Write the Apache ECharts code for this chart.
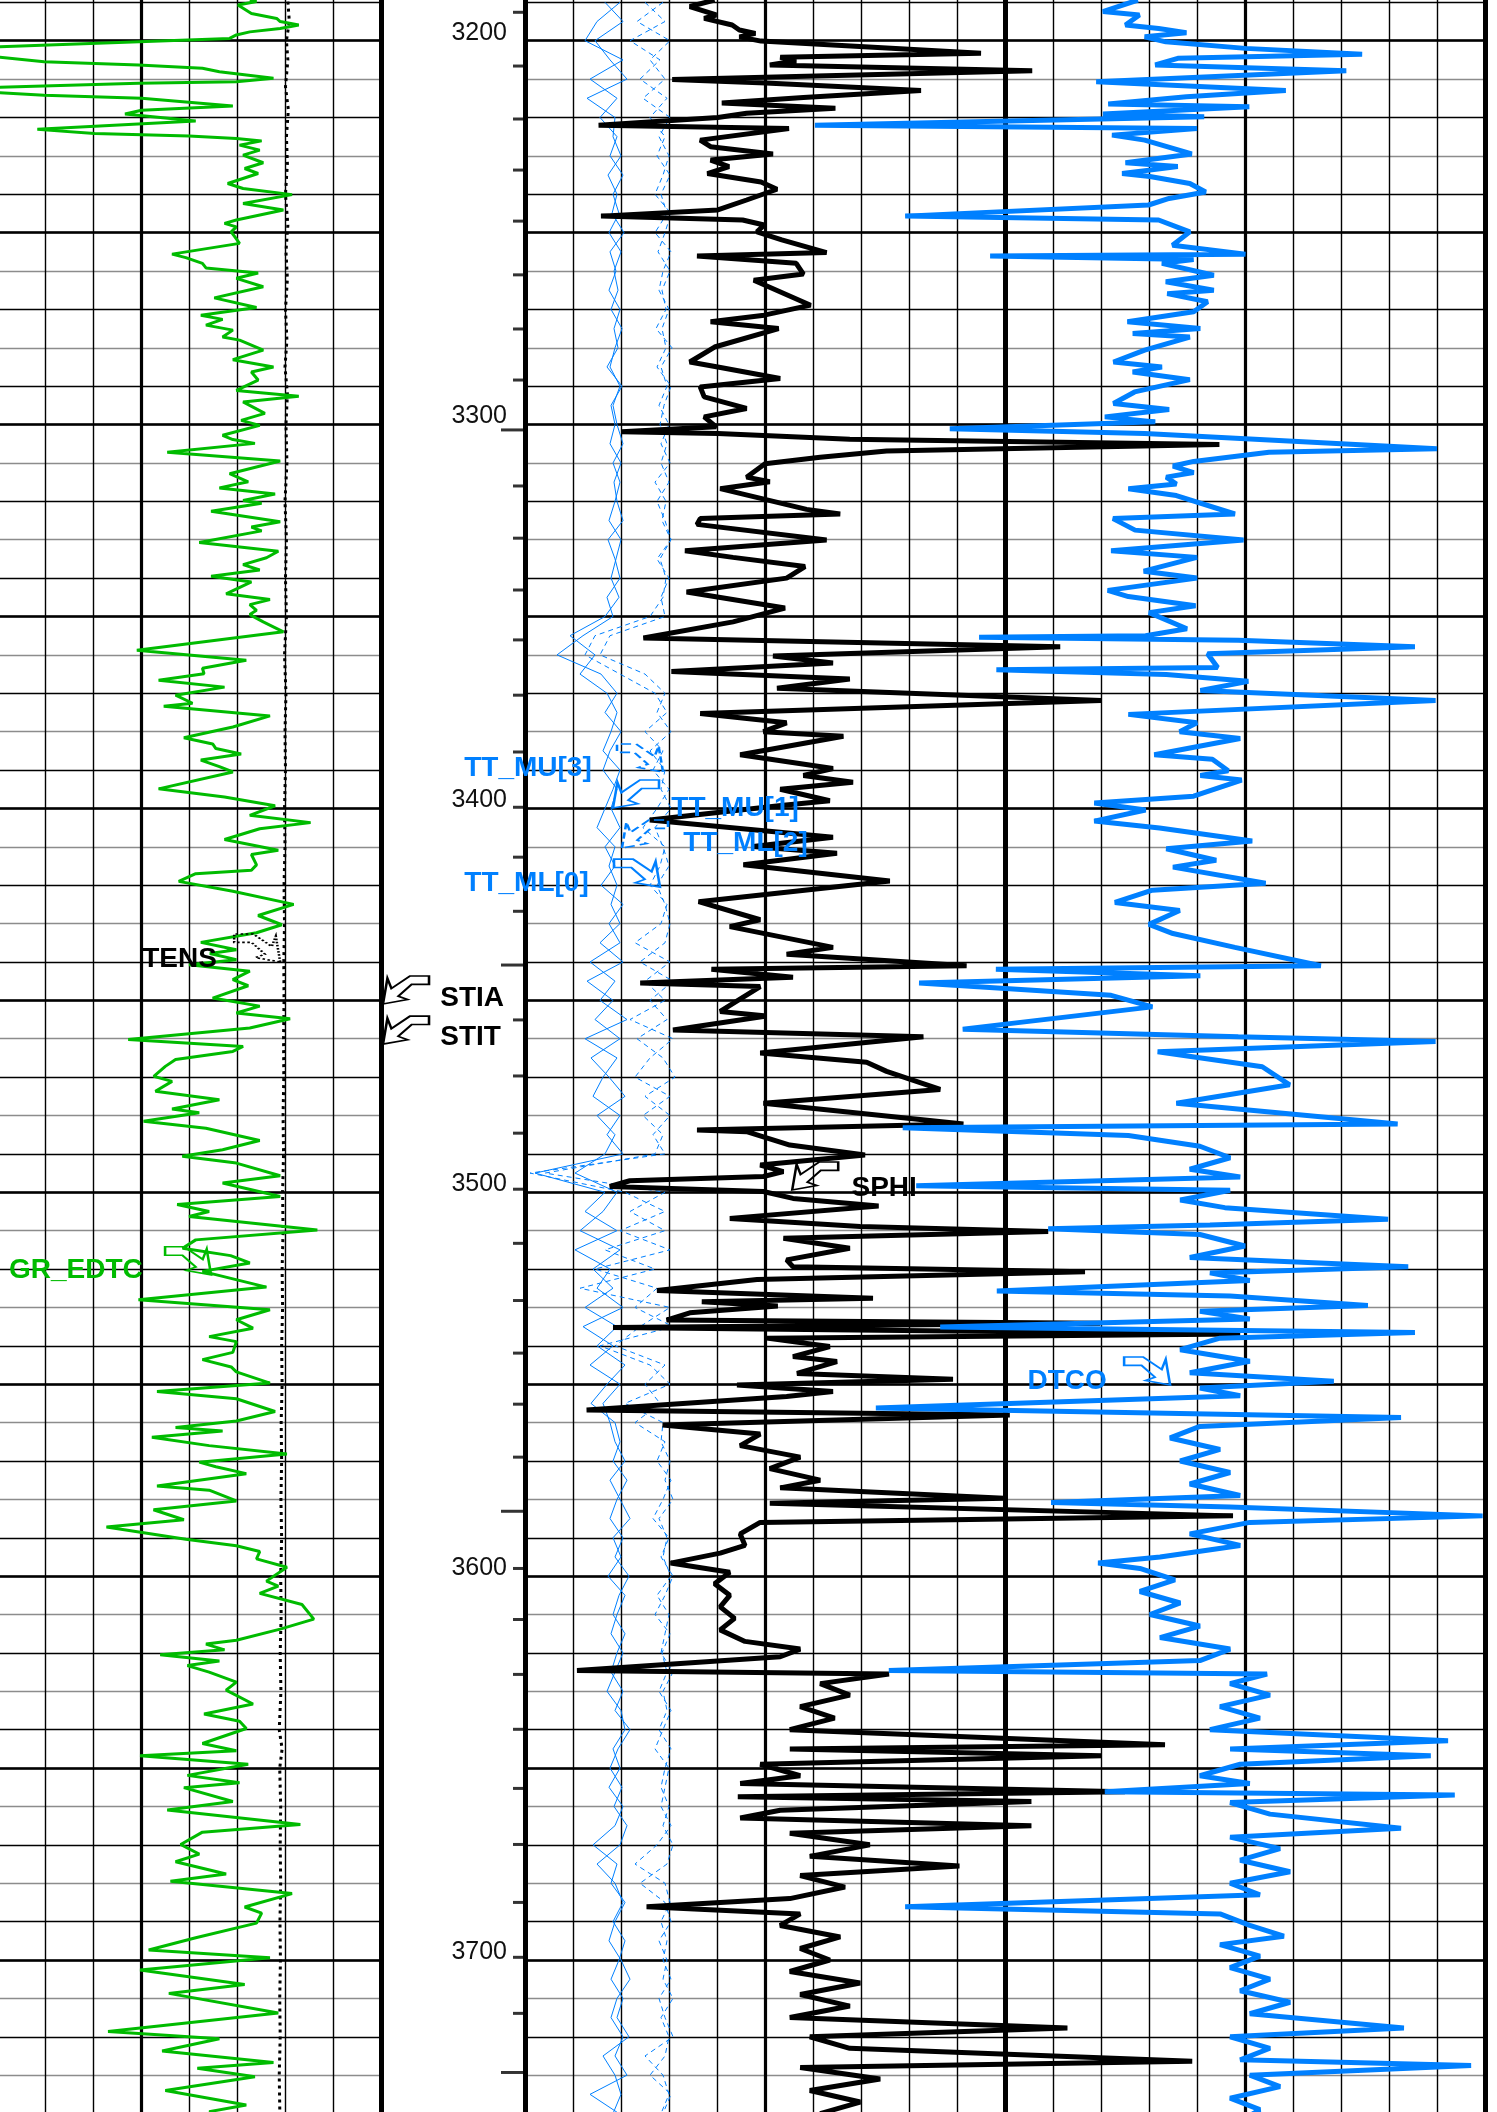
<!DOCTYPE html>
<html>
<head>
<meta charset="utf-8">
<title>Well log 3190-3740 m</title>
<script src="https://cdn.jsdelivr.net/npm/echarts@6/dist/echarts.min.js"></script>
<style>
  html, body { margin: 0; padding: 0; background: #ffffff; }
  #log { width: 1497px; height: 2112px; }
</style>
</head>
<body>
<div id="log"></div>
<script>
// ---------------- curve data (depth in m) ----------------
const GR_DEPTH = [3189.4,3189.8,3190.7,3192.9,3194.2,3195.0,3195.9,3196.8,3197.7,3198.5,3199.4,3202.3,3205.5,3206.3,3207.2,3208.1,3209.8,3210.7,3211.1,3212.6,3214.2,3215.0,3217.0,3218.1,3219.1,3220.9,3223.1,3224.2,3224.8,3225.5,3226.1,3227.2,3228.5,3229.8,3231.8,3233.3,3234.6,3237.2,3238.5,3240.1,3242.4,3244.1,3246.7,3247.6,3248.5,3249.8,3252.8,3255.6,3256.5,3258.0,3259.2,3260.5,3261.9,3264.1,3267.0,3269.5,3271.5,3272.6,3274.1,3275.4,3277.2,3278.0,3280.6,3283.1,3285.0,3286.3,3288.4,3291.1,3292.6,3294.1,3297.1,3298.9,3300.2,3302.8,3303.9,3304.9,3307.2,3309.5,3312.8,3314.9,3316.5,3318.1,3319.8,3320.5,3322.6,3325.3,3326.7,3327.7,3330.7,3333.0,3334.7,3336.5,3337.9,3339.5,3341.0,3344.1,3345.6,3346.9,3348.4,3349.5,3351.4,3354.0,3358.8,3361.4,3363.5,3364.9,3366.6,3368.4,3370.5,3372.6,3373.4,3375.9,3378.8,3381.6,3383.2,3384.4,3385.8,3387.4,3389.1,3390.5,3394.9,3397.0,3399.3,3401.8,3403.7,3405.3,3408.1,3410.9,3412.0,3414.7,3416.1,3417.0,3419.0,3421.6,3425.0,3427.9,3430.3,3432.4,3434.9,3436.8,3437.8,3439.4,3440.7,3442.4,3444.6,3446.2,3449.4,3451.5,3453.3,3454.8,3457.2,3460.2,3462.0,3463.3,3465.4,3467.2,3469.8,3471.1,3473.7,3475.9,3478.3,3479.3,3481.5,3483.3,3486.5,3488.9,3490.6,3492.4,3495.7,3497.6,3501.1,3503.2,3505.0,3506.3,3509.8,3512.4,3514.6,3516.5,3518.4,3520.6,3524.7,3528.0,3530.6,3533.2,3535.4,3537.6,3538.9,3541.7,3543.6,3545.5,3546.8,3549.7,3551.9,3553.8,3557.1,3559.6,3561.3,3562.2,3563.8,3566.0,3568.2,3570.3,3571.5,3573.3,3576.5,3577.6,3580.4,3582.7,3585.3,3587.2,3590.4,3592.1,3593.6,3595.5,3597.7,3601.3,3602.6,3604.5,3607.4,3611.2,3613.8,3616.7,3617.7,3619.2,3620.5,3622.1,3623.3,3625.0,3627.6,3629.7,3633.3,3635.9,3637.8,3639.7,3643.6,3645.5,3646.8,3649.0,3651.9,3653.8,3655.1,3658.7,3660.9,3664.7,3666.7,3669.9,3672.4,3674.4,3677.6,3679.5,3682.7,3686.2,3687.8,3690.4,3694.2,3697.4,3699.4,3702.6,3706.4,3708.7,3713.8,3718.6,3720.5,3723.7,3726.7,3728.2,3730.4,3734.0,3737.8,3739.5,3742.0];
const GR_GAPI = [109,111.1,105.3,109.5,117.4,118.5,124.3,118.5,109,104.8,102.7,8,44.7,74.2,94.2,99.5,116.4,104.8,74.2,10,44.7,75.2,103.7,75.2,70,92.1,42.6,60.5,90,104.8,112.7,105.8,112.1,106.9,113.2,107.4,111.6,102.1,106.9,122.2,106.9,119.5,104.8,101.1,104.8,103.2,105.8,84.7,89,94.2,95.3,111.6,104.8,113.2,97.9,111.1,93.7,100.5,95.3,103.7,100.5,105.8,113.2,103.7,116.4,109.5,111.6,104.8,124.3,106.9,113.7,106.3,112.1,100.5,103.7,110.6,83.2,118.5,102.7,108.5,99.5,116.9,106.9,112.7,96.9,118.5,109.5,112.7,93.2,117.9,114.2,106.9,112.1,96.9,109.5,101.6,115.3,109,111.1,109,113.2,119.5,73.7,107.9,94.2,94.7,80.5,101.1,85.8,91.1,82.1,115.3,103.7,88.4,97.4,98.4,106.3,93.7,99.5,103.7,80.5,101.1,116.9,109,128,112.1,101.1,117.9,109.5,111.1,109.5,92.1,86.8,103.7,122.7,111.6,119,111.1,93.7,104.8,96.5,104.8,90,109,103.7,108.5,97.4,112.1,104.8,121.6,109,71,106.9,103.7,85.8,82.6,79,84.7,79.5,99.5,84.7,93.2,75.8,95.3,112.1,100.5,87.9,104.8,118.5,100.5,118.5,86.3,96.3,90,130.1,92.1,88,103,109,94.2,114.2,74.2,115.3,104.8,110,96.3,104.8,103.7,94.2,103.2,104.8,115.3,80,104.8,116.9,104.8,85.8,100.5,78.4,96.3,120.6,93.2,98.4,107.9,80,96.3,104.8,78.9,88.4,64.2,89,104.8,112.1,111.1,120.6,114.2,117.9,112.1,125.3,129,118.5,104.8,95.3,101.1,81,99.5,89.5,96.3,104.8,101.6,110,94.7,105.8,107.9,94.2,104.8,74.7,108.5,89.5,105.8,88.4,103.7,83.2,124.8,94.2,87.4,93.2,85.8,101.6,84.2,122.2,107.4,112.7,111.1,92.1,77.4,115.3,74.7,107.4,83.7,117.9,64.7,99.5,81.6,116.4,92.6,110.6,82.6,107.9,96.3,104];

const TENS_DEPTH = [3188,3195,3200,3205,3212,3218,3225,3232,3240,3248,3255,3262,3270,3278,3285,3292,3300,3310,3320,3330,3340,3350,3360,3370,3380,3390,3400,3410,3420,3430,3440,3450,3460,3470,3480,3490,3500,3510,3520,3530,3540,3550,3560,3570,3580,3590,3600,3610,3620,3630,3640,3645,3650,3660,3670,3680,3690,3700,3710,3720,3730,3742];
const TENS_LBF = [8050,8090,8030,8060,8010,8070,8030,8050,8010,8060,8020,8050,8010,8040,8000,8050,8020,8040,8000,8030,8010,8030,7990,8020,8000,8010,7990,8000,7980,7990,7975,7980,7970,7975,7960,7970,7950,7960,7940,7950,7930,7940,7920,7930,7915,7930,7910,7920,7900,7915,7880,7940,7890,7910,7900,7910,7895,7905,7890,7900,7880,7895];

const SPHI_DEPTH = [3189.4,3191.1,3193.3,3194.2,3195.9,3197.2,3198.1,3199.0,3200.1,3203.3,3204.3,3205.2,3206.3,3207.8,3210.1,3211.0,3213.0,3214.8,3216.2,3217.6,3218.9,3220.0,3222.0,3222.9,3225.9,3227.6,3229.5,3231.1,3232.8,3234.6,3236.8,3238.7,3241.5,3244.1,3245.7,3246.7,3248.0,3249.8,3251.9,3255.2,3256.1,3258.0,3260.8,3262.4,3268.9,3271.5,3273.2,3275.0,3279.8,3283.7,3285.0,3288.0,3290.2,3292.8,3295.8,3298.0,3300.6,3301.9,3302.3,3303.8,3305.2,3306.9,3308.5,3310.2,3313.7,3314.9,3316.7,3322.1,3323.3,3324.5,3326.0,3330.1,3332.9,3334.6,3337.0,3340.0,3343.6,3347.8,3351.4,3355.6,3357.9,3360.3,3362.1,3364.3,3366.3,3368.7,3371.9,3375.3,3377.7,3380.0,3381.2,3386.0,3389.6,3391.4,3393.2,3395.0,3398.0,3399.2,3403.0,3407.5,3409.9,3411.7,3414.7,3418.9,3424.3,3429.0,3430.8,3436.2,3438.0,3441.0,3441.9,3444.0,3445.5,3446.4,3452.9,3454.1,3457.7,3459.5,3463.7,3466.1,3468.5,3473.2,3476.8,3482.2,3483.8,3484.2,3487.7,3490.3,3492.9,3494.6,3495.9,3497.0,3498.5,3499.8,3501.6,3503.6,3506.8,3508.9,3510.2,3512.0,3514.6,3517.6,3519.4,3520.7,3522.7,3525.6,3527.6,3528.5,3529.6,3531.4,3533.3,3534.1,3535.2,3536.9,3538.0,3540.2,3542.8,3544.1,3547.2,3548.7,3550.2,3551.9,3553.2,3556.7,3558.0,3560.6,3563,3566,3569,3572,3575,3577,3579.7,3581,3584.3,3586,3589,3592,3594,3596.6,3599,3602,3605,3608,3611,3614,3617,3619,3621,3624.6,3625.5,3628,3631,3634,3637,3640,3643.9,3645,3646.8,3649,3652,3654,3656.2,3657.5,3658.7,3661,3663,3665,3667,3670,3673,3675.5,3678,3681,3684,3686.1,3688,3691,3694,3697,3700,3703,3706,3709,3712,3715,3717.7,3720,3723,3726.4,3728,3731,3734,3737,3740,3742];
const SPHI_PU = [21.3,24.4,21.1,22.6,19.1,18.2,16.2,18.2,15.5,-12.0,13.1,11.1,14.4,-18.4,26.6,14.9,-4.5,10.2,20.4,6.2,17.3,20.9,35.8,12,23.1,21.8,14,21.8,19.5,22.2,15.5,13.5,17.3,20.9,35.5,17.8,15.1,16,12.9,7.3,23.5,11.1,10.2,16.4,9.3,15.1,21.8,13.3,21.3,24.4,20.9,13.1,23.1,22.6,17.3,22.6,21.1,32.9,20.9,4.4,-41.8,-0.2,8.1,15,17.3,14.4,20.6,9.8,5.6,23.1,23.5,7.3,25,19,10,12.3,24.8,12.5,19,30.2,-21.9,14,6.5,26.7,4.4,13.5,-27,23.1,12.3,15.2,5.2,18.1,6.5,10.2,4,13.1,6.9,12.7,29.4,6.5,16.5,6,17.7,-0.6,23.3,15.6,19.4,6.5,12.3,-10.2,21.7,11.5,30.6,15.6,20.6,14.8,26.5,-4.8,15.6,2.3,-0.2,-6.9,15.2,-9.8,23.5,17.3,11.9,2.5,15.6,12.7,15.2,31.9,34.4,15.2,11.5,0.8,19.4,3.1,-20.4,12.7,4.4,12.3,11.5,-25,16,28.5,1.5,22.9,13.4,24.4,27.3,-26.9,34,-44.4,14.8,6.9,11.5,6,11,-8.5,18.5,6.5,12.3,37.3,-15.6,27.8,15.6,18.1,10.6,14.4,8.1,13.1,-14.9,14.4,-43.5,15.6,18.1,17.5,20.6,26.8,19.4,21.3,19.4,20.6,18.8,20.6,17.5,10.6,13.1,38.5,-0.5,8.1,4.4,10.6,6.3,11.9,-35,11.9,-27.1,15.6,10.6,18.1,-30,18.4,-18.3,13.1,18.1,-18.3,11.9,1.9,9.4,-9.3,10.6,5,11.9,29.8,10.6,13.1,5.6,10.6,6.9,11.9,3.1,10.6,4.4,11.9,-22.8,9.4,4.4,-38.4,10.6,0.6,9.4,3.1,8.1,5.6];

const DTCO_DEPTH = [3189.4,3192.4,3193.3,3195.9,3196.8,3197.9,3199.0,3200.3,3202.0,3203.5,3204.6,3206.3,3207.8,3210.7,3213.0,3214.6,3216.5,3217.2,3219.1,3219.8,3222.0,3222.9,3224.6,3225.9,3229.5,3231.8,3232.8,3234.6,3235.4,3237.2,3239.4,3241.1,3242.8,3245.7,3246.7,3249.8,3253.3,3255.6,3256.1,3257.0,3258.0,3261.1,3262.8,3265.0,3265.9,3268.0,3270.6,3273.2,3275.0,3276.3,3277.2,3280.6,3283.7,3285.0,3286.3,3288.3,3291.5,3294.5,3296.1,3298.0,3299.3,3301.1,3302.3,3306.3,3307.2,3309.6,3310.8,3312.5,3313.7,3315.5,3316.7,3318.5,3323.3,3324.5,3327.5,3330.1,3332.9,3334.6,3338.2,3340.0,3343.2,3344.8,3347.2,3349.0,3353.2,3355.0,3355.4,3356.2,3357.9,3359.7,3363.3,3363.9,3365.1,3366.9,3369.3,3371.9,3375.5,3377.7,3380.0,3381.8,3386.0,3387.2,3390.2,3391.4,3392.6,3396.8,3398.6,3400.4,3403.3,3405.1,3408.5,3410.5,3413.5,3415.3,3419.5,3421.3,3424.5,3426.6,3430.2,3432.6,3436.2,3441.0,3441.9,3443.6,3445.5,3448.7,3451.7,3457.5,3459.5,3460.7,3463.4,3467.3,3472.0,3476.8,3482.2,3483.2,3485.2,3488,3491,3494,3496,3498.3,3499.5,3502,3504,3507,3508.5,3509.5,3511,3514,3517,3519.4,3521,3523,3525.7,3527,3529.5,3531,3533,3535.1,3536.5,3538,3541,3544,3547,3549.2,3551,3553,3556.2,3558.7,3561,3564,3567,3570,3573,3576,3579,3580.8,3582,3584.3,3586,3589,3592,3595,3596.6,3598,3601,3604,3607,3610,3613,3616,3619,3622,3624.6,3625.5,3628,3631,3634,3637,3640,3642.9,3645,3646.8,3649,3652,3654,3656.2,3657,3659,3662,3665.7,3668,3671,3674,3677,3680,3683,3686.1,3688,3691,3693.8,3696,3699,3702,3705,3708,3711,3714,3717.7,3720,3723,3726,3727.5,3730,3733,3736,3739,3742];
const DTCO_USFT = [112.3,119.6,112,114.9,108,102.2,110.9,106.5,89.9,65.6,104,108.7,68.9,121,81.5,102.2,118.5,89.1,119.6,98.5,179.6,100,117.7,110.9,101.1,114.9,104,115.6,109.8,101.5,98.2,105.8,110.1,160.8,108,101.5,105.1,89.9,143.1,100.7,107.3,96.5,106.5,96.5,106.2,97.8,100.7,114.5,99.3,113.4,101.5,110.9,117.4,107.3,113.4,101.5,113,117.4,105.8,119.2,108.7,151.5,110.9,50,85,100.7,105,100.7,106.4,104.3,114.3,104.3,92.1,117.5,112.9,90.3,117.9,100,111.1,100,118.6,114.3,100.3,110,102.1,110.7,145.4,91.4,54.6,97.8,95.7,141.8,106.4,89.3,99.3,50.3,114.3,100,103.6,91,108.9,96.8,93.5,99.3,90.7,100.7,121.4,110.7,121.4,107.8,88.5,106.4,96,105,85.7,109.3,117.1,103.6,110,105,92.1,74.2,141.9,99.3,157.9,117.9,109.3,148.8,91.4,50.3,108.2,86.4,80.7,104.3,58.2,161.3,114.3,99.4,93.1,101.5,91,158.5,93.1,103.5,94.2,60.2,97.3,131,99.4,90,101.5,56,97.3,89,141.7,93.1,64.4,99.4,89,153.5,54.6,95.2,103.5,89,101.5,71.5,99.4,91,166.9,57.5,99.4,105.6,95.2,103.5,93.1,101.5,91,130.4,93.1,40.5,89,101.5,91,107.7,120.6,111.9,104.6,111.9,103.5,109.8,99.4,107.7,93.1,99.4,164.2,85.4,93.1,84.8,95.2,86.9,97.3,47.7,93.1,51.3,91,99.4,89,119.2,46.3,93.1,84.8,57.5,93.1,82.7,91,80.6,93.1,86.9,160.8,95.2,89,81.9,95.2,86.9,93.1,84.8,91,80.6,89,56.9,93.1,84.8,91,42.9,89,82.7,93.1,86.9,91];

// transit-time curves, sampled every 5 m
const TT_DEPTH = [3190,3195,3200,3205,3210,3215,3220,3225,3230,3235,3240,3245,3250,3255,3260,3265,3270,3275,3280,3285,3290,3295,3300,3305,3310,3315,3320,3325,3330,3335,3340,3345,3350,3355,3360,3365,3370,3375,3380,3385,3390,3395,3400,3405,3410,3415,3420,3425,3430,3435,3440,3445,3450,3455,3460,3465,3470,3475,3480,3485,3490,3495,3500,3505,3510,3515,3520,3525,3530,3535,3540,3545,3550,3555,3560,3565,3570,3575,3580,3585,3590,3595,3600,3605,3610,3615,3620,3625,3630,3635,3640,3645,3650,3655,3660,3665,3670,3675,3680,3685,3690,3695,3700,3705,3710,3715,3720,3725,3730,3735,3740];
const TT_MU1 = [395,372,360,398,365,392,375,392,385,398,388,394,384,396,389,393,386,397,390,385,395,388,392,398,388,395,390,384,396,391,386,394,380,345,370,355,382,392,386,378,395,388,380,372,390,384,392,386,395,375,398,362,388,370,395,366,384,400,372,390,380,350,392,378,355,395,368,388,360,392,372,400,382,366,390,395,388,402,392,385,398,390,404,394,388,400,392,386,398,390,405,393,385,397,389,402,395,372,390,398,388,400,394,386,398,392,404,378,390,396,388];
const TT_ML0 = [380,398,370,385,402,362,390,388,396,383,392,387,399,385,391,384,395,389,393,382,397,386,390,385,396,389,392,398,383,390,395,382,388,358,332,376,392,380,396,385,378,392,386,395,380,390,376,398,384,395,365,390,375,402,360,392,378,368,395,382,398,310,380,360,392,350,385,372,398,358,388,365,395,378,385,390,400,385,395,405,388,396,383,400,392,386,398,390,382,396,400,388,395,384,398,390,368,392,386,400,390,384,396,405,392,386,398,390,402,365,394];
const TT_MU3 = [420,440,405,435,415,442,425,440,432,445,436,442,430,446,438,434,444,437,441,432,446,439,435,442,436,444,432,440,446,435,441,438,425,370,360,395,430,442,420,438,428,444,432,418,440,435,425,442,436,410,445,420,440,405,448,425,410,445,418,438,430,320,440,405,440,380,430,355,445,415,390,440,420,435,410,440,432,446,438,428,444,436,448,440,430,445,437,442,434,446,438,430,444,440,436,446,432,410,440,445,436,442,438,446,434,440,448,420,438,444,436];
const TT_ML2 = [438,412,445,425,440,418,445,434,444,438,430,446,440,433,445,437,441,431,447,436,442,434,444,436,445,430,441,437,446,432,444,436,440,385,375,420,440,432,446,425,440,436,446,430,438,444,432,440,445,440,415,448,425,442,412,438,450,420,445,428,440,305,400,440,395,445,370,432,410,448,375,425,445,400,438,436,445,440,448,434,442,438,446,432,444,440,436,448,438,442,434,446,440,436,444,438,448,442,415,440,446,434,442,438,448,436,444,440,425,446,438];

// logging time marks along the depth scale (every tenth one is long)
const TIME_MARK_DEPTH = [3192.6,3206.6,3220.4,3233.7,3247.0,3261.0,3275.1,3288.4,3301.4,3316.0,3329.6,3343.1,3356.1,3370.5,3385.3,3399.7,3412.7,3426.8,3440.8,3455.1,3469.7,3484.6,3499.2,3513.3,3528.2,3541.9,3555.2,3569.0,3583.1,3598.0,3611.3,3625.6,3639.9,3655.3,3669.9,3685.0,3699.3,3713.9,3729.3];
const LONG_MARK_DEPTH = [3301.4,3440.8,3583.1,3729.3];

// ---------------- layout & style ----------------
const DEPTH_MIN = 3100, DEPTH_MAX = 3800;
const PX_PER_M = 3.8386;
const Y_AT_3200 = 40.7;
const GRID_TOP = Y_AT_3200 - (3200 - DEPTH_MIN) * PX_PER_M;
const GRID_H = (DEPTH_MAX - DEPTH_MIN) * PX_PER_M;

const GREEN = '#00bb00', BLUE = '#0080ff', INK = '#000000';
const FONT = 'Liberation Sans, Arial, Helvetica, sans-serif';

const ARROW_L = 'path://M0 28 L4.4 2.3 L8.4 12.5 L27 0 L46 0 L46 8.4 L28.7 8.4 L15.2 20.2 L24.7 23.6 Z';
const ARROW_R = 'path://M46 28 L41.6 2.3 L37.6 12.5 L19 0 L0 0 L0 8.4 L17.3 8.4 L30.8 20.2 L21.3 23.6 Z';

function pairs(values, depths) { return values.map((v, i) => [v, depths[i]]); }

// curve name callout: flag arrow whose tip sits on [value, depth]
function callout(text, coord, pointsLeft, color, dist, dy, border) {
  return {
    name: text,
    coord: coord,
    symbol: pointsLeft ? ARROW_L : ARROW_R,
    symbolSize: [46, 28],
    symbolOffset: pointsLeft ? [23, -14] : [-23, -14],
    itemStyle: { color: 'rgba(255,255,255,0)', borderColor: color, borderWidth: 2, borderType: border || 'solid' },
    label: {
      show: true, formatter: text, position: pointsLeft ? 'right' : 'left',
      distance: dist, offset: [0, dy], color: color,
      fontFamily: FONT, fontWeight: 'bold', fontSize: 28
    }
  };
}

const hidden = { axisLine: { show: false }, axisTick: { show: false }, axisLabel: { show: false } };

function divAxis(grid, max, interval, width, color) {
  return Object.assign({ type: 'value', gridIndex: grid, min: 0, max: max, interval: interval,
    splitLine: { show: true, lineStyle: { color: color || INK, width: width } } }, hidden);
}
function dataAxis(grid, min, max, inverse) {
  return Object.assign({ type: 'value', gridIndex: grid, min: min, max: max, inverse: !!inverse,
    splitLine: { show: false } }, hidden);
}
function depthAxis(grid, interval, lineStyle) {
  return Object.assign({ type: 'value', gridIndex: grid, min: DEPTH_MIN, max: DEPTH_MAX, inverse: true,
    interval: interval, splitLine: { show: !!lineStyle, lineStyle: lineStyle } }, hidden);
}

const MINOR_DEPTH_LINE = { color: ['#000000', '#8c8c8c', '#000000', '#8c8c8c', '#000000'], width: 1.4 };
const MAJOR_DEPTH_LINE = { color: INK, width: 2.6 };

// tracks extend past the page edges; keep their rectangles exactly as given
const gridBase = { top: GRID_TOP, height: GRID_H, containLabel: false, outerBoundsMode: 'none' };

const option = {
  animation: false,
  backgroundColor: '#ffffff',
  grid: [
    Object.assign({ left: -99, width: 480 }, gridBase),   // track 1
    Object.assign({ left: 525, width: 960 }, gridBase),   // tracks 2-3
    Object.assign({ left: 381, width: 144 }, gridBase)    // depth track
  ],
  xAxis: [
    divAxis(0, 150, 15, 1.4),            // 0: GR, gAPI
    divAxis(0, 150, 75, 3.2),            // 1: track-1 centre and edge
    dataAxis(0, 0, 10000),               // 2: TENS, lbf
    divAxis(1, 20, 1, 1.4),              // 3: tracks 2-3 divisions
    divAxis(1, 20, 5, 3.2),              // 4: track centres
    divAxis(1, 20, 10, 5),               // 5: track edges
    dataAxis(1, -75, 45, true),          // 6: SPHI, p.u.
    dataAxis(1, 40, 240, true),          // 7: DTCO, us/ft
    dataAxis(1, 300, 1260),              // 8: TT, us
    dataAxis(2, 0, 1)                    // 9: depth track
  ],
  yAxis: [
    Object.assign(depthAxis(0, 10, MINOR_DEPTH_LINE), { position: 'right',
      axisLine: { show: true, lineStyle: { color: INK, width: 5 } } }),
    depthAxis(0, 50, MAJOR_DEPTH_LINE),
    depthAxis(1, 10, MINOR_DEPTH_LINE),
    depthAxis(1, 50, MAJOR_DEPTH_LINE),
    Object.assign(depthAxis(2, 100, null), { position: 'right',
      axisLine: { show: true, lineStyle: { color: INK, width: 5 } },
      axisLabel: { show: true, inside: true, margin: 18, color: '#111111', fontFamily: FONT, fontSize: 25,
        verticalAlign: 'bottom', lineHeight: 16, formatter: v => String(v) } })
  ],
  series: [
    { name: 'GR_EDTC', type: 'line', xAxisIndex: 0, yAxisIndex: 0, data: pairs(GR_GAPI, GR_DEPTH),
      showSymbol: false, lineStyle: { color: GREEN, width: 3 }, z: 3,
      markPoint: { silent: true, data: [callout('GR_EDTC', [96.9, 3521.5], false, GREEN, 21, 9)] } },
    { name: 'TENS', type: 'line', xAxisIndex: 2, yAxisIndex: 0, data: pairs(TENS_LBF, TENS_DEPTH),
      showSymbol: false, lineStyle: { color: INK, width: 3, type: [3, 4] }, z: 2,
      markPoint: { silent: true, data: [callout('TENS', [7900, 3440.0], false, INK, 16, 11, 'dotted')] } },
    { name: 'TT_MU[3]', type: 'line', xAxisIndex: 8, yAxisIndex: 2, data: pairs(TT_MU3, TT_DEPTH),
      showSymbol: false, lineStyle: { color: BLUE, width: 1, type: [5, 4] }, z: 2,
      markPoint: { silent: true, data: [callout('TT_MU[3]', [438, 3390.5], false, BLUE, 24, 10, 'dashed')] } },
    { name: 'TT_MU[1]', type: 'line', xAxisIndex: 8, yAxisIndex: 2, data: pairs(TT_MU1, TT_DEPTH),
      showSymbol: false, lineStyle: { color: BLUE, width: 1 }, z: 2,
      markPoint: { silent: true, data: [callout('TT_MU[1]', [388, 3399.9], true, BLUE, 11, 14)] } },
    { name: 'TT_ML[2]', type: 'line', xAxisIndex: 8, yAxisIndex: 2, data: pairs(TT_ML2, TT_DEPTH),
      showSymbol: false, lineStyle: { color: BLUE, width: 1, type: [5, 4] }, z: 2,
      markPoint: { silent: true, data: [callout('TT_ML[2]', [397, 3410.3], true, BLUE, 14, 9, 'dashed')] } },
    { name: 'TT_ML[0]', type: 'line', xAxisIndex: 8, yAxisIndex: 2, data: pairs(TT_ML0, TT_DEPTH),
      showSymbol: false, lineStyle: { color: BLUE, width: 1 }, z: 2,
      markPoint: { silent: true, data: [callout('TT_ML[0]', [435, 3420.5], false, BLUE, 24, 10)] } },
    { name: 'SPHI', type: 'line', xAxisIndex: 6, yAxisIndex: 2, data: pairs(SPHI_PU, SPHI_DEPTH),
      showSymbol: false, lineStyle: { color: INK, width: 5 }, z: 3,
      markPoint: { silent: true, data: [callout('SPHI', [11.6, 3499.4], true, INK, 12, 12)] } },
    { name: 'DTCO', type: 'line', xAxisIndex: 7, yAxisIndex: 2, data: pairs(DTCO_USFT, DTCO_DEPTH),
      showSymbol: false, lineStyle: { color: BLUE, width: 5 }, z: 4,
      markPoint: { silent: true, data: [callout('DTCO', [105.6, 3550.2], false, BLUE, 16, 10)] } },
    { name: 'STIA', type: 'line', xAxisIndex: 9, yAxisIndex: 4, data: [],
      markPoint: { silent: true, data: [callout('STIA', [0.014, 3450.95], true, INK, 10, 8)] } },
    { name: 'STIT', type: 'line', xAxisIndex: 9, yAxisIndex: 4, data: [],
      markPoint: { silent: true, data: [callout('STIT', [0.014, 3461.4], true, INK, 10, 7)] } },
    { name: 'time marks', type: 'scatter', xAxisIndex: 9, yAxisIndex: 4, silent: true,
      data: TIME_MARK_DEPTH.filter(d => LONG_MARK_DEPTH.indexOf(d) < 0).map(d => [1, d]),
      symbol: 'rect', symbolSize: [10, 3], symbolOffset: [-7, 0], itemStyle: { color: INK }, z: 5 },
    { name: 'time marks (long)', type: 'scatter', xAxisIndex: 9, yAxisIndex: 4, silent: true,
      data: LONG_MARK_DEPTH.map(d => [1, d]),
      symbol: 'rect', symbolSize: [22, 3], symbolOffset: [-13, 0], itemStyle: { color: INK }, z: 5 }
  ]
};

const chart = echarts.init(document.getElementById('log'), null, { renderer: 'canvas' });
chart.setOption(option);
</script>
</body>
</html>
